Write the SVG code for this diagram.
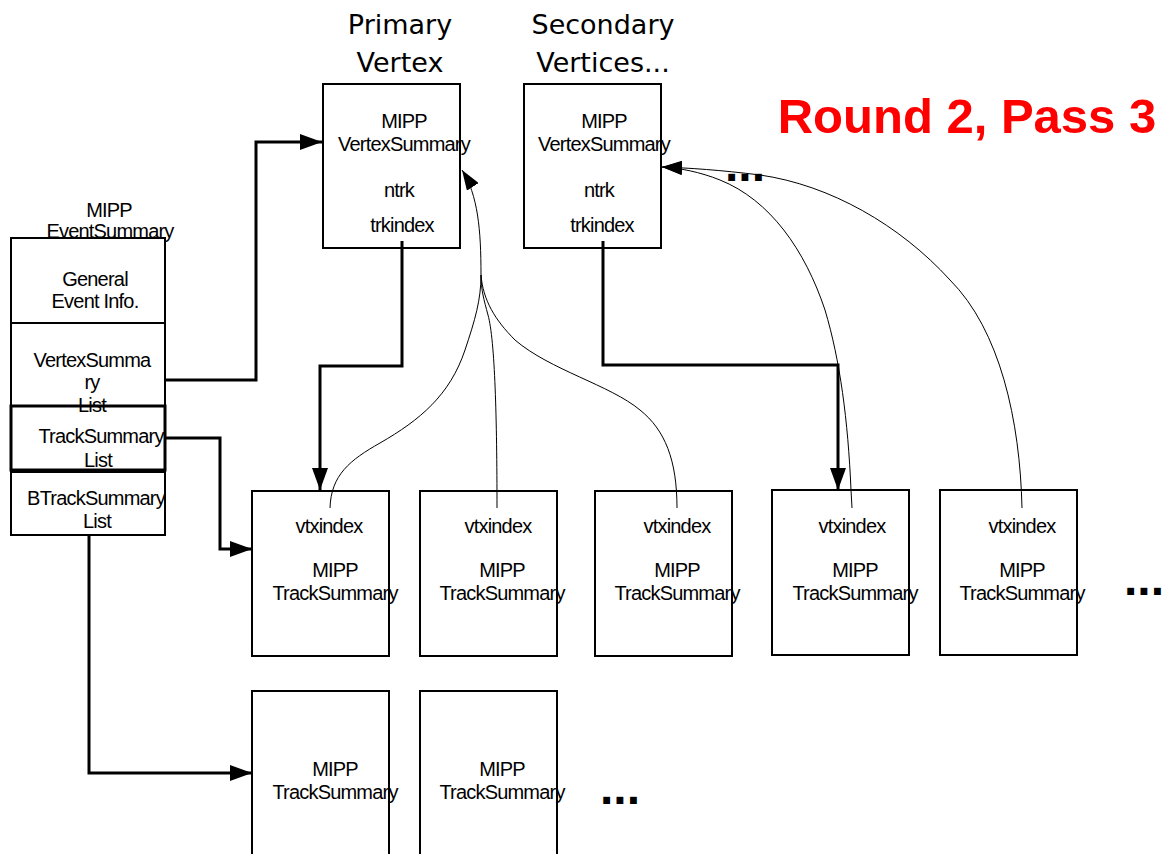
<svg xmlns="http://www.w3.org/2000/svg" width="1173" height="854" viewBox="0 0 1173 854">
<style>
.box{fill:#fff;stroke:#000;stroke-width:2}
.t{font-family:"Liberation Sans",Arial,sans-serif;font-size:20px;letter-spacing:-0.8px;fill:#000;text-anchor:middle}
.h{font-family:"DejaVu Sans",Verdana,sans-serif;font-size:27px;fill:#000;text-anchor:middle}
.dots{font-family:"Liberation Sans",Arial,sans-serif;font-size:48px;font-weight:bold;fill:#000}
.thick{fill:none;stroke:#000;stroke-width:3;marker-end:url(#ah)}
.thin{fill:none;stroke:#000;stroke-width:1}
</style>
<defs>
<marker id="ah" markerUnits="userSpaceOnUse" markerWidth="22" markerHeight="16" refX="22" refY="8" orient="auto"><path d="M0,0 L22,8 L0,16 z" fill="#000"/></marker>
<marker id="ah2" markerUnits="userSpaceOnUse" markerWidth="20" markerHeight="14" refX="20" refY="7" orient="auto"><path d="M0,0 L20,7 L0,14 z" fill="#000"/></marker>
</defs>
<rect width="1173" height="854" fill="#fff"/>

<text x="967" y="133" font-family="Liberation Sans,Arial,sans-serif" font-size="49" font-weight="bold" fill="#ff0000" text-anchor="middle">Round 2, Pass 3</text>

<g id="event-summary">
<text class="t" x="109" y="217">MIPP</text>
<text class="t" x="110" y="238">EventSummary</text>
<rect class="box" x="11" y="238" width="154" height="85"/>
<text class="t" x="95" y="286">General</text>
<text class="t" x="95" y="308">Event Info.</text>
<rect class="box" x="11" y="323" width="154" height="83"/>
<text class="t" x="92" y="367">VertexSumma</text>
<text class="t" x="92" y="389">ry</text>
<rect class="box" x="11" y="406" width="154" height="64" style="stroke-width:3"/>
<text class="t" x="92" y="412">List</text>
<text class="t" x="101" y="443">TrackSummary</text>
<text class="t" x="98" y="467">List</text>
<rect class="box" x="11" y="472" width="154" height="63"/>
<text class="t" x="96" y="505">BTrackSummary</text>
<text class="t" x="97" y="528">List</text>
</g>

<g id="primary-vertex">
<text class="h" x="400" y="34">Primary</text>
<text class="h" x="400" y="72">Vertex</text>
<rect class="box" x="323" y="84" width="137" height="164"/>
<text class="t" x="404" y="128">MIPP</text>
<text class="t" x="404" y="151">VertexSummary</text>
<text class="t" x="399" y="197">ntrk</text>
<text class="t" x="402" y="232">trkindex</text>
</g>

<g id="secondary-vertex">
<text class="h" x="603" y="34">Secondary</text>
<text class="h" x="603" y="72">Vertices...</text>
<rect class="box" x="524" y="84" width="137" height="164"/>
<text class="t" x="604" y="128">MIPP</text>
<text class="t" x="604" y="151">VertexSummary</text>
<text class="t" x="599" y="197">ntrk</text>
<text class="t" x="602" y="232">trkindex</text>
</g>

<g id="track1">
<rect class="box" x="252" y="491" width="137" height="165"/>
<text class="t" x="329" y="533">vtxindex</text>
<text class="t" x="335" y="577">MIPP</text>
<text class="t" x="335" y="600">TrackSummary</text>
</g>
<g id="track2">
<rect class="box" x="420" y="491" width="137" height="165"/>
<text class="t" x="498" y="533">vtxindex</text>
<text class="t" x="502" y="577">MIPP</text>
<text class="t" x="502" y="600">TrackSummary</text>
</g>
<g id="track3">
<rect class="box" x="595" y="491" width="137" height="165"/>
<text class="t" x="677" y="533">vtxindex</text>
<text class="t" x="677" y="577">MIPP</text>
<text class="t" x="677" y="600">TrackSummary</text>
</g>
<g id="track4">
<rect class="box" x="772" y="490" width="137" height="165"/>
<text class="t" x="852" y="533">vtxindex</text>
<text class="t" x="855" y="577">MIPP</text>
<text class="t" x="855" y="600">TrackSummary</text>
</g>
<g id="track5">
<rect class="box" x="940" y="490" width="137" height="165"/>
<text class="t" x="1022" y="533">vtxindex</text>
<text class="t" x="1022" y="577">MIPP</text>
<text class="t" x="1022" y="600">TrackSummary</text>
</g>
<text class="dots" x="1124" y="595">...</text>

<g id="btrack1">
<rect class="box" x="252" y="691" width="137" height="175"/>
<text class="t" x="335" y="776">MIPP</text>
<text class="t" x="335" y="799">TrackSummary</text>
</g>
<g id="btrack2">
<rect class="box" x="420" y="691" width="137" height="175"/>
<text class="t" x="502" y="776">MIPP</text>
<text class="t" x="502" y="799">TrackSummary</text>
</g>
<text class="dots" x="600" y="804">...</text>

<g id="connectors">
<path class="thick" d="M165,380 L256,380 L256,142 L322,142"/>
<path class="thick" d="M165,438 L220,438 L220,549 L252,549"/>
<path class="thick" d="M89,535 L89,773 L252,773"/>
<path class="thick" d="M402,241 L402,366 L320,366 L320,490"/>
<path class="thick" d="M603,241 L603,365 L838,365 L838,490"/>
<path class="thin" d="M330,508 C331,475 350,460 380,443 C420,420 450,395 465,350 C475,320 481,300 481,275 C481,230 478,195 462,170" marker-end="url(#ah2)"/>
<path class="thin" d="M497,508 C497,420 495,340 488,315 C484,300 481,290 481,275"/>
<path class="thin" d="M677,508 C677,460 665,430 640,410 C610,385 550,370 515,340 C495,320 483,300 481,275"/>
<path class="thin" d="M852,508 L851,490 C848,420 840,360 825,310 C805,250 770,200 720,180 C700,172 680,168 662,167" marker-end="url(#ah2)"/>
<path class="thin" d="M1022,508 C1020,420 1000,330 950,280 C900,225 830,185 760,175 C720,170 690,168 662,167" marker-end="url(#ah2)"/>
</g>
<text class="dots" x="725" y="181">...</text>
</svg>
